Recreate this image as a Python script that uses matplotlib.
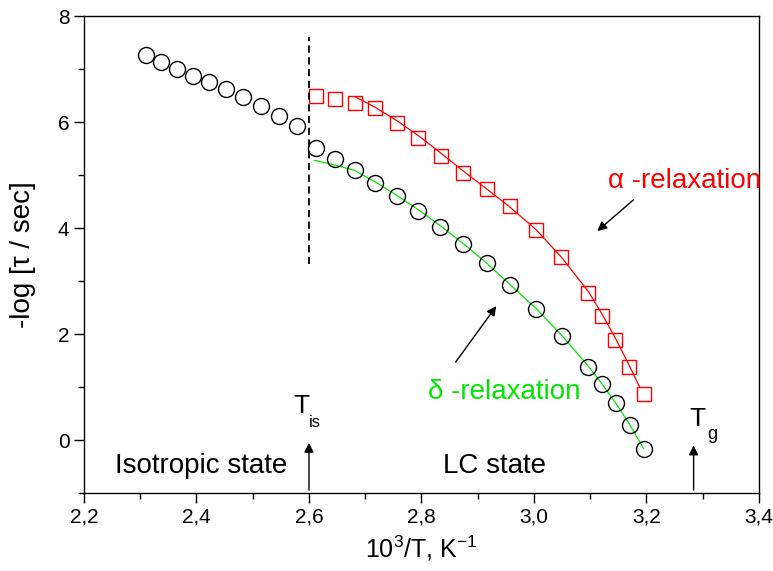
import numpy as np
import matplotlib
matplotlib.use('Agg')
import matplotlib.pyplot as plt
from matplotlib.ticker import MultipleLocator, FuncFormatter

plt.rcParams['font.family'] = ['Liberation Sans', 'DejaVu Sans']

# isotropic phase (black circles, left of T_is)
x_iso = [2.310, 2.337, 2.365, 2.394, 2.422, 2.452, 2.483, 2.515, 2.547, 2.578]
y_iso = [7.27, 7.13, 7.00, 6.88, 6.75, 6.62, 6.47, 6.30, 6.11, 5.92]

# delta relaxation in LC state (black circles)
x_delta = [2.612, 2.646, 2.681, 2.718, 2.756, 2.794, 2.833, 2.874, 2.916, 2.958,
           3.004, 3.050, 3.097, 3.121, 3.146, 3.171, 3.195]
y_delta = [5.52, 5.31, 5.09, 4.85, 4.60, 4.33, 4.03, 3.70, 3.35, 2.93,
           2.48, 1.96, 1.38, 1.06, 0.69, 0.29, -0.16]

# alpha relaxation (red squares)
x_alpha = [2.612, 2.646, 2.682, 2.718, 2.756, 2.794, 2.834, 2.874, 2.916, 2.957,
           3.004, 3.049, 3.097, 3.121, 3.145, 3.169, 3.195]
y_alpha = [6.49, 6.43, 6.36, 6.26, 5.98, 5.71, 5.37, 5.04, 4.74, 4.42,
           3.97, 3.45, 2.77, 2.35, 1.89, 1.38, 0.86]

# fit curves
x_fit_a = [2.682, 2.718, 2.756, 2.794, 2.834, 2.874, 2.916, 2.957, 3.004, 3.049,
           3.097, 3.121, 3.145, 3.169, 3.188]
y_fit_a = [6.48, 6.28, 6.03, 5.75, 5.42, 5.08, 4.74, 4.40, 3.97, 3.45,
           2.80, 2.38, 1.92, 1.42, 1.00]
x_fit_d = [2.610, 2.646, 2.681, 2.718, 2.756, 2.794, 2.833, 2.874, 2.916, 2.958,
           3.004, 3.050, 3.097, 3.121, 3.146, 3.171, 3.195]
y_fit_d = [5.28, 5.19, 5.09, 4.87, 4.62, 4.35, 4.05, 3.71, 3.34, 2.93,
           2.48, 1.97, 1.39, 1.06, 0.69, 0.28, -0.16]

T_is = 2.6
T_g = 3.284

green = '#00e600'

fig = plt.figure(figsize=(7.73, 5.71), dpi=100)
ax = fig.add_axes([0.1087, 0.1366, 0.873, 0.835])

ax.plot(x_fit_a, y_fit_a, color='red', lw=0.9)
ax.plot(x_fit_d, y_fit_d, color=green, lw=0.9)
ax.plot(x_iso, y_iso, 'o', ms=11.5, mfc='none', mec='black', mew=1.0)
ax.plot(x_delta, y_delta, 'o', ms=11.5, mfc='none', mec='black', mew=1.0)
ax.plot(x_alpha, y_alpha, 's', ms=10, mfc='none', mec='red', mew=1.0)

# T_is boundary
ax.plot([T_is, T_is], [3.32, 7.6], color='black', lw=1.3, dashes=(4, 2.5))

arr = dict(arrowstyle='-|>', color='black', lw=1.0, mutation_scale=14)
ax.annotate('', xy=(T_is, 0.0), xytext=(T_is, -1.0), arrowprops=arr)
ax.annotate('', xy=(T_g, -0.05), xytext=(T_g, -1.0), arrowprops=arr)
ax.annotate('', xy=(3.109, 3.91), xytext=(3.181, 4.57), arrowprops=arr)
ax.annotate('', xy=(2.936, 2.57), xytext=(2.858, 1.43), arrowprops=arr)

ax.text(3.132, 4.89, 'α -relaxation', color='red', fontsize=20, ha='left', va='center')
ax.text(2.812, 0.91, 'δ -relaxation', color=green, fontsize=20, ha='left', va='center')
ax.text(2.255, -0.49, 'Isotropic state', fontsize=20, ha='left', va='center')
ax.text(2.838, -0.49, 'LC state', fontsize=20, ha='left', va='center')
ax.text(2.572, 0.64, 'T', fontsize=19, ha='left', va='center')
ax.text(2.600, 0.34, 'is', fontsize=12, ha='left', va='center')
ax.text(3.276, 0.40, 'T', fontsize=19, ha='left', va='center')
ax.text(3.308, 0.10, 'g', fontsize=13, ha='left', va='center')

ax.set_xlim(2.2, 3.4)
ax.set_ylim(-1, 8)
ax.xaxis.set_major_locator(MultipleLocator(0.2))
ax.xaxis.set_minor_locator(MultipleLocator(0.1))
ax.yaxis.set_major_locator(MultipleLocator(2))
ax.yaxis.set_minor_locator(MultipleLocator(1))
ax.xaxis.set_major_formatter(FuncFormatter(lambda v, p: f'{v:.1f}'.replace('.', ',')))
ax.tick_params(which='major', direction='out', length=7, width=1.0, labelsize=15)
ax.tick_params(which='minor', direction='out', length=4, width=1.0)
for s in ax.spines.values():
    s.set_linewidth(1.0)

ax.set_xlabel(r'10$^{\mathregular{3}}$/T, K$^{\mathregular{-1}}$', fontsize=18)
ax.set_ylabel('-log [τ / sec]', fontsize=20)
ax.xaxis.set_label_coords(0.5, -0.115)
ax.xaxis.label.set_va('center')
ax.yaxis.set_label_coords(-0.090, 0.5)
ax.yaxis.label.set_va('center')

fig.savefig('out.png', dpi=100)
